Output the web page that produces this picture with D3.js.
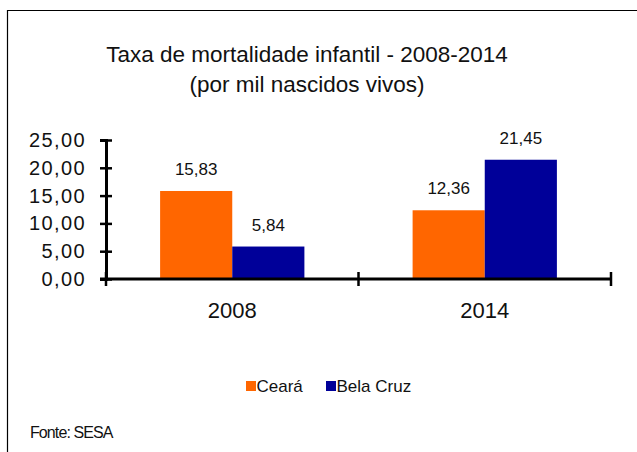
<!DOCTYPE html>
<html>
<head>
<meta charset="utf-8">
<script src="https://cdn.jsdelivr.net/npm/d3@7"></script>
<style>
  html, body { margin: 0; padding: 0; background: #fff; }
  svg { display: block; font-family: Arial, "Liberation Sans", sans-serif; }
</style>
</head>
<body>
<svg id="chart" width="637" height="452"></svg>
<script>
/* ── Data ───────────────────────────────────────────────────────────────────── */
const years = ["2008", "2014"];
const series = ["Ceará", "Bela Cruz"];
const ceara = [15.83, 12.36];
const belaCruz = [5.84, 21.45];
const yTicks = [0, 5, 10, 15, 20, 25];
const titleLines = ["Taxa de mortalidade infantil - 2008-2014", "(por mil nascidos vivos)"];
const source = "Fonte: SESA";

const COLORS = {
  "Ceará": "#ff6600",     // orange
  "Bela Cruz": "#000099", // navy
};

/* ── Setup ──────────────────────────────────────────────────────────────────── */
const svg = d3.select("#chart");
const ptBR = d3.formatLocale({ decimal: ",", thousands: ".", grouping: [3], currency: ["R$", ""] });
const fmt = ptBR.format(".2f");

const rows = years.map((yr, i) => ({ year: yr, values: [ceara[i], belaCruz[i]] }));

// Frame (only top and left edges show in the picture)
svg.append("path")
  .attr("d", "M7.5,452V10.5H637")
  .attr("fill", "none")
  .attr("stroke", "#000")
  .attr("stroke-width", 1.2);

// Title
const title = svg.append("text")
  .attr("x", 307)
  .attr("text-anchor", "middle")
  .attr("font-size", 22.5)
  .attr("fill", "#111");
titleLines.forEach((t, i) => {
  title.append("tspan").attr("x", 307).attr("y", 62 + i * 30).text(t);
});

/* ── Scales ─────────────────────────────────────────────────────────────────── */
const x = d3.scaleBand().domain(years).range([106, 611]);
const xs = d3.scaleBand().domain(series).range([0, x.bandwidth()]).paddingOuter(0.75);
const y = d3.scaleLinear().domain([0, 25]).range([279, 140]);

/* ── Bars ───────────────────────────────────────────────────────────────────── */
const groups = svg.append("g")
  .selectAll("g")
  .data(rows)
  .join("g")
  .attr("transform", d => `translate(${x(d.year)},0)`);

groups.selectAll("rect")
  .data(d => d.values.map((v, i) => ({ key: series[i], v })))
  .join("rect")
  .attr("x", d => xs(d.key))
  .attr("y", d => y(d.v))
  .attr("width", xs.bandwidth())
  .attr("height", d => y(0) - y(d.v))
  .attr("fill", d => COLORS[d.key]);

groups.selectAll("text")
  .data(d => d.values.map((v, i) => ({ key: series[i], v })))
  .join("text")
  .attr("x", d => xs(d.key) + xs.bandwidth() / 2)
  .attr("y", d => y(d.v) - 16)
  .attr("text-anchor", "middle")
  .attr("font-size", 17)
  .attr("fill", "#111")
  .text(d => fmt(d.v));

/* ── Axes ───────────────────────────────────────────────────────────────────── */
const yAxis = svg.append("g")
  .attr("transform", "translate(106,0)")
  .call(d3.axisLeft(y).tickValues(yTicks).tickFormat(fmt).tickSizeOuter(0).tickSize(6).tickPadding(14));
yAxis.select(".domain").attr("stroke", "#000").attr("stroke-width", 3);
yAxis.selectAll(".tick line").attr("x1", -6).attr("x2", 6).attr("stroke", "#000").attr("stroke-width", 2.5);
yAxis.selectAll(".tick text")
  .attr("font-size", 20)
  .attr("font-family", null)
  .attr("letter-spacing", "1.4px")
  .attr("fill", "#111");

const xAxis = svg.append("g")
  .attr("transform", "translate(0,279)");
xAxis.append("line")
  .attr("x1", x.range()[0] - 6).attr("x2", x.range()[1])
  .attr("stroke", "#000").attr("stroke-width", 3);
xAxis.selectAll(".xtick")
  .data([x.range()[0], ...years.slice(1).map(d => x(d)), x.range()[1]])
  .join("line")
  .attr("x1", d => d).attr("x2", d => d)
  .attr("y1", -7).attr("y2", 7)
  .attr("stroke", "#000").attr("stroke-width", 2.5);
xAxis.selectAll("text")
  .data(years)
  .join("text")
  .attr("x", d => x(d) + x.bandwidth() / 2)
  .attr("y", 39)
  .attr("text-anchor", "middle")
  .attr("font-size", 22)
  .attr("fill", "#111")
  .text(d => d);

/* ── Legend ─────────────────────────────────────────────────────────────────── */
const legendX = [246, 326];
const legend = svg.append("g")
  .selectAll("g")
  .data(series)
  .join("g")
  .attr("transform", (d, i) => `translate(${legendX[i]},381)`);
legend.append("rect")
  .attr("width", 10).attr("height", 10)
  .attr("fill", d => COLORS[d]);
legend.append("text")
  .attr("x", 10.5).attr("y", 11)
  .attr("font-size", 17)
  .attr("fill", "#111")
  .text(d => d);

/* ── Source ─────────────────────────────────────────────────────────────────── */
svg.append("text")
  .attr("x", 30).attr("y", 438)
  .attr("font-size", 16)
  .attr("letter-spacing", "-0.9px")
  .attr("fill", "#111")
  .text(source);
</script>
</body>
</html>
